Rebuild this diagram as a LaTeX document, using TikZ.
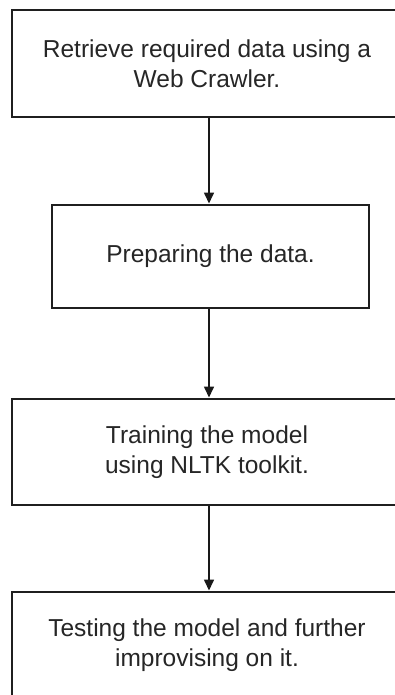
\documentclass[tikz,border=0pt]{standalone}
\usepackage{fontspec}
\setmainfont{Liberation Sans}
\usetikzlibrary{arrows.meta}
\begin{document}
\begin{tikzpicture}[x=1pt,y=-1pt,
  stagebox/.style={draw=black!88, line width=2pt, fill=white, inner sep=0pt,
    align=center, text=black!85, font=\fontsize{24.5}{30}\selectfont},
  flow/.style={draw=black!90, line width=1.6pt,
    -{Triangle[length=11pt,width=10pt]}, shorten >=0.5pt}]
  \clip (0,0) rectangle (395,695);
  \fill[white] (0,0) rectangle (395,695);

  % process stages, top to bottom
  \node[stagebox, minimum width=390pt, minimum height=107pt] (crawl) at (207,63.5)
    {Retrieve required data using a\\Web Crawler.};
  \node[stagebox, minimum width=317pt, minimum height=103pt] (prep) at (210.5,256.5)
    {Preparing the data.};
  \node[stagebox, minimum width=390pt, minimum height=106pt] (train) at (207,452)
    {Training the model\\using NLTK toolkit.};
  \node[stagebox, minimum width=390pt, minimum height=106pt] (test) at (207,645)
    {Testing the model and further\\improvising on it.};

  % connectors between stages
  \coordinate (ax) at (209,0);
  \draw[flow] (crawl.south -| ax) -- (prep.north -| ax);
  \draw[flow] (prep.south -| ax) -- (train.north -| ax);
  \draw[flow] (train.south -| ax) -- (test.north -| ax);
\end{tikzpicture}
\end{document}
